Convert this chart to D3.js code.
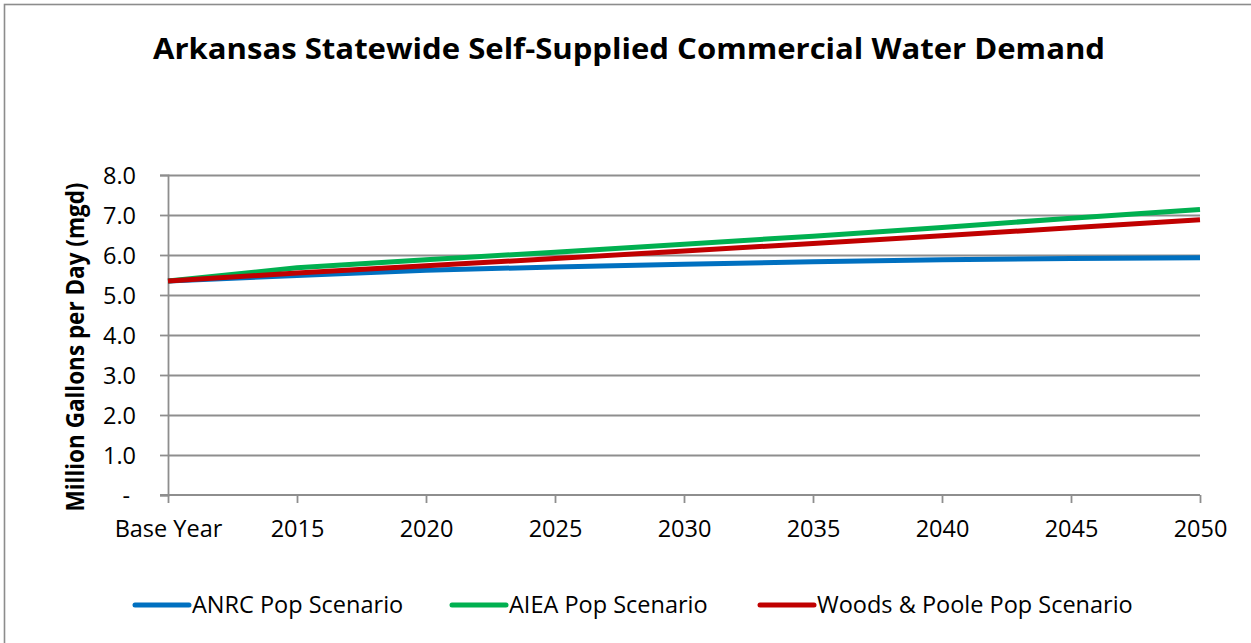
<!DOCTYPE html>
<html>
<head>
<meta charset="utf-8">
<script src="https://cdn.jsdelivr.net/npm/d3@7"></script>
<style>
  html, body { margin: 0; padding: 0; background: #fff; }
  svg { display: block; }
  text { font-family: "Open Sans", "DejaVu Sans", sans-serif; fill: #000; }
</style>
</head>
<body>
<svg id="chart" width="1251" height="643"></svg>
<script>
// Demand categories and scenario series (million gallons per day)
const categories = ["Base Year", "2015", "2020", "2025", "2030", "2035", "2040", "2045", "2050"];
const anrcPop  = [5.35, 5.49, 5.62, 5.70, 5.77, 5.83, 5.88, 5.91, 5.93];
const aieaPop  = [5.35, 5.68, 5.88, 6.07, 6.27, 6.47, 6.69, 6.92, 7.14];
const woodsPop = [5.35, 5.55, 5.73, 5.91, 6.10, 6.29, 6.48, 6.68, 6.88];
const yTicks = [0, 1, 2, 3, 4, 5, 6, 7, 8];
const seriesNames = ["ANRC Pop Scenario", "AIEA Pop Scenario", "Woods & Poole Pop Scenario"];
const seriesColors = ["#0070C0", "#00B050", "#C00000"];

const title = "Arkansas Statewide Self-Supplied Commercial Water Demand";
const yTitle = "Million Gallons per Day (mgd)";

const svg = d3.select("#chart");

// chart frame
svg.append("rect")
  .attr("x", 4.5).attr("y", 4.5)
  .attr("width", 1300).attr("height", 700)
  .attr("fill", "#fff")
  .attr("stroke", "#8c8c8c").attr("stroke-width", 1.6);

const plot = { left: 168, right: 1200, top: 175, bottom: 495 };

const x = d3.scalePoint().domain(categories).range([plot.left, plot.right]);
const y = d3.scaleLinear().domain([0, 8]).range([plot.bottom, plot.top]);

const gridColor = "#8e8e8e";

// horizontal gridlines
const grid = svg.append("g")
  .attr("transform", `translate(${plot.left},0)`)
  .call(d3.axisLeft(y).tickValues(yTicks.filter(d => d > 0)).tickSize(-(plot.right - plot.left)).tickFormat(""));
grid.select(".domain").remove();
grid.selectAll("line").attr("stroke", gridColor).attr("stroke-width", 1.8);

// y axis
const yAxis = svg.append("g")
  .attr("transform", `translate(${plot.left},0)`)
  .call(d3.axisLeft(y).tickValues(yTicks).tickSize(8).tickPadding(24)
    .tickFormat(d => d === 0 ? "-" : d3.format(".1f")(d)));
yAxis.select(".domain").attr("stroke", gridColor).attr("stroke-width", 1.8);
yAxis.selectAll("line").attr("stroke", gridColor).attr("stroke-width", 1.8);
yAxis.selectAll("text")
  .style("font-size", "23.5px")
  .attr("dy", "0.34em")
  .filter(d => d === 0).attr("x", -38);

// x axis
const xAxis = svg.append("g")
  .attr("transform", `translate(0,${plot.bottom})`)
  .call(d3.axisBottom(x).tickSize(8).tickPadding(17));
xAxis.select(".domain").attr("stroke", gridColor).attr("stroke-width", 1.8)
  .attr("d", `M${plot.left - 8},0H${plot.right}`);
xAxis.selectAll("line").attr("stroke", gridColor).attr("stroke-width", 1.8);
xAxis.selectAll("text").style("font-size", "23.5px");

// series lines
const line = d3.line()
  .x((d, i) => x(categories[i]))
  .y(d => y(d));

[anrcPop, aieaPop, woodsPop].forEach((vals, i) => {
  svg.append("path")
    .datum(vals)
    .attr("d", line)
    .attr("fill", "none")
    .attr("stroke", seriesColors[i])
    .attr("stroke-width", 5)
    .attr("stroke-linejoin", "round")
    .attr("stroke-linecap", "butt");
});

// title
svg.append("text")
  .attr("x", 629).attr("y", 59)
  .attr("text-anchor", "middle")
  .attr("textLength", 952).attr("lengthAdjust", "spacingAndGlyphs")
  .style("font-size", "28.5px").style("font-weight", "700")
  .text(title);

// y axis title
svg.append("text")
  .attr("transform", "translate(84,347) rotate(-90)")
  .attr("text-anchor", "middle")
  .attr("textLength", 329).attr("lengthAdjust", "spacingAndGlyphs")
  .style("font-size", "24.5px").style("font-weight", "700")
  .text(yTitle);

// legend
const legendX = [135, 452, 760];
const legendY = 605;
const legend = svg.append("g");
seriesNames.forEach((name, i) => {
  legend.append("line")
    .attr("x1", legendX[i]).attr("x2", legendX[i] + 54)
    .attr("y1", legendY).attr("y2", legendY)
    .attr("stroke", seriesColors[i]).attr("stroke-width", 5)
    .attr("stroke-linecap", "round");
  legend.append("text")
    .attr("x", legendX[i] + 57).attr("y", legendY)
    .attr("dy", "0.36em")
    .style("font-size", "23.5px")
    .text(name);
});
</script>
</body>
</html>
